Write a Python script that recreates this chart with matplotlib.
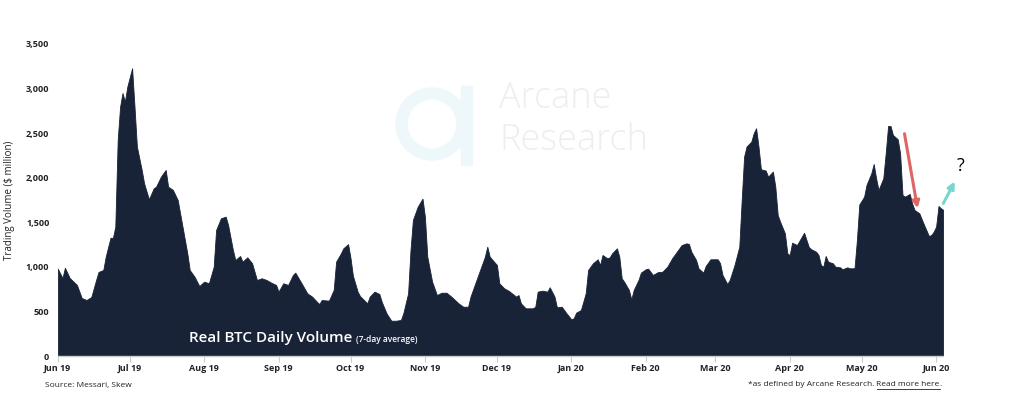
import matplotlib
matplotlib.use("Agg")
import matplotlib.pyplot as plt
import matplotlib.patches as mpatches
import pandas as pd

# ---- data ----
dates = [
    "2019-06-01", "2019-06-03", "2019-06-04", "2019-06-06", "2019-06-09", "2019-06-11", "2019-06-13",
    "2019-06-15", "2019-06-17", "2019-06-18", "2019-06-20", "2019-06-21", "2019-06-23", "2019-06-24",
    "2019-06-25", "2019-06-26", "2019-06-27", "2019-06-28", "2019-06-29", "2019-06-30", "2019-07-02",
    "2019-07-03", "2019-07-04", "2019-07-06", "2019-07-07", "2019-07-09", "2019-07-11", "2019-07-12",
    "2019-07-14", "2019-07-16", "2019-07-17", "2019-07-19", "2019-07-21", "2019-07-23", "2019-07-25",
    "2019-07-26", "2019-07-28", "2019-07-30", "2019-08-01", "2019-08-03", "2019-08-05", "2019-08-06",
    "2019-08-08", "2019-08-10", "2019-08-11", "2019-08-13", "2019-08-14", "2019-08-16", "2019-08-17",
    "2019-08-19", "2019-08-21", "2019-08-23", "2019-08-25", "2019-08-27", "2019-08-29", "2019-08-31",
    "2019-09-01", "2019-09-03", "2019-09-05", "2019-09-07", "2019-09-08", "2019-09-09", "2019-09-11",
    "2019-09-13", "2019-09-15", "2019-09-17", "2019-09-18", "2019-09-19", "2019-09-22", "2019-09-24",
    "2019-09-25", "2019-09-27", "2019-09-28", "2019-09-30", "2019-10-01", "2019-10-02", "2019-10-04",
    "2019-10-05", "2019-10-08", "2019-10-09", "2019-10-11", "2019-10-13", "2019-10-14", "2019-10-16",
    "2019-10-18", "2019-10-20", "2019-10-22", "2019-10-23", "2019-10-25", "2019-10-26", "2019-10-27",
    "2019-10-29", "2019-10-31", "2019-11-01", "2019-11-02", "2019-11-04", "2019-11-06", "2019-11-08",
    "2019-11-10", "2019-11-12", "2019-11-15", "2019-11-17", "2019-11-19", "2019-11-20", "2019-11-22",
    "2019-11-24", "2019-11-26", "2019-11-27", "2019-11-28", "2019-12-01", "2019-12-02", "2019-12-04",
    "2019-12-06", "2019-12-09", "2019-12-10", "2019-12-11", "2019-12-13", "2019-12-16", "2019-12-17",
    "2019-12-18", "2019-12-20", "2019-12-22", "2019-12-23", "2019-12-25", "2019-12-26", "2019-12-28",
    "2019-12-30", "2020-01-01", "2020-01-02", "2020-01-03", "2020-01-05", "2020-01-07", "2020-01-08",
    "2020-01-10", "2020-01-12", "2020-01-13", "2020-01-14", "2020-01-16", "2020-01-17", "2020-01-18",
    "2020-01-20", "2020-01-21", "2020-01-22", "2020-01-23", "2020-01-25", "2020-01-26", "2020-01-27",
    "2020-01-29", "2020-01-30", "2020-02-01", "2020-02-02", "2020-02-04", "2020-02-06", "2020-02-08",
    "2020-02-10", "2020-02-12", "2020-02-14", "2020-02-16", "2020-02-18", "2020-02-19", "2020-02-20",
    "2020-02-22", "2020-02-23", "2020-02-25", "2020-02-26", "2020-02-28", "2020-03-02", "2020-03-03",
    "2020-03-04", "2020-03-06", "2020-03-07", "2020-03-09", "2020-03-11", "2020-03-12", "2020-03-13",
    "2020-03-14", "2020-03-16", "2020-03-17", "2020-03-18", "2020-03-19", "2020-03-20", "2020-03-22",
    "2020-03-23", "2020-03-25", "2020-03-26", "2020-03-27", "2020-03-28", "2020-03-30", "2020-03-31",
    "2020-04-01", "2020-04-02", "2020-04-04", "2020-04-05", "2020-04-07", "2020-04-08", "2020-04-09",
    "2020-04-10", "2020-04-12", "2020-04-13", "2020-04-14", "2020-04-15", "2020-04-16", "2020-04-17",
    "2020-04-19", "2020-04-20", "2020-04-22", "2020-04-23", "2020-04-25", "2020-04-26", "2020-04-28",
    "2020-04-29", "2020-04-30", "2020-05-02", "2020-05-03", "2020-05-05", "2020-05-06", "2020-05-07",
    "2020-05-08", "2020-05-10", "2020-05-11", "2020-05-12", "2020-05-13", "2020-05-14", "2020-05-16",
    "2020-05-17", "2020-05-18", "2020-05-19", "2020-05-21", "2020-05-22", "2020-05-23", "2020-05-25",
    "2020-05-27", "2020-05-29", "2020-05-30", "2020-05-31", "2020-06-01", "2020-06-02", "2020-06-03",
    "2020-06-04",
]
volume = [
    980, 875, 990, 875, 797, 651, 628,
    662, 853, 943, 965, 1114, 1327, 1324,
    1451, 2424, 2797, 2950, 2853, 3021, 3228,
    2797, 2349, 2087, 1937, 1758, 1881, 1900,
    2012, 2087, 1900, 1863, 1750, 1451, 1152,
    965, 890, 785, 834, 816, 1002, 1414,
    1545, 1563, 1470, 1189, 1077, 1122, 1058,
    1107, 1040, 853, 872, 853, 822, 797,
    722, 816, 797, 909, 935, 890, 797,
    703, 666, 609, 583, 628, 621, 741,
    1058, 1152, 1208, 1255, 1100, 900, 720,
    670, 591, 666, 722, 696, 609, 479,
    396, 396, 404, 479, 703, 1189, 1526,
    1675, 1765, 1563, 1114, 834, 684, 710,
    710, 666, 591, 553, 553, 666, 816,
    965, 1114, 1226, 1114, 1021, 816, 760,
    730, 666, 684, 591, 535, 535, 553,
    722, 733, 722, 771, 666, 546, 553,
    479, 412, 423, 486, 516, 703, 965,
    1040, 1085, 1021, 1133, 1096, 1107, 1152,
    1208, 1114, 872, 834, 741, 636, 741,
    853, 935, 973, 980, 909, 940, 946,
    1002, 1096, 1170, 1245, 1264, 1257, 1170,
    1077, 984, 935, 1010, 1085, 1085, 1040,
    909, 808, 853, 1021, 1226, 1750, 2236,
    2349, 2405, 2499, 2555, 2349, 2095, 2080,
    2012, 2069, 1900, 1582, 1507, 1376, 1152,
    1133, 1271, 1245, 1290, 1383, 1300, 1220,
    1197, 1170, 1133, 1021, 1002, 1122, 1058,
    1040, 1002, 995, 973, 995, 984, 984,
    1300, 1700, 1787, 1919, 2050, 2154, 1994,
    1863, 1994, 2274, 2581, 2581, 2480, 2432,
    2274, 1806, 1787, 1818, 1713, 1638, 1601,
    1470, 1346, 1357, 1395, 1451, 1683, 1657,
    1638,
]
y_ticks = [0, 500, 1000, 1500, 2000, 2500, 3000, 3500]
x_tick_dates = ["2019-06-01", "2019-07-01", "2019-08-01", "2019-09-01", "2019-10-01", "2019-11-01",
                "2019-12-01", "2020-01-01", "2020-02-01", "2020-03-01", "2020-04-01", "2020-05-01",
                "2020-06-01"]
x_tick_labels = ["Jun 19", "Jul 19", "Aug 19", "Sep 19", "Oct 19", "Nov 19", "Dec 19",
                 "Jan 20", "Feb 20", "Mar 20", "Apr 20", "May 20", "Jun 20"]

plt.rcParams['font.family'] = ['Open Sans', 'DejaVu Sans']

W, H = 1024, 393
fig = plt.figure(figsize=(W / 100, H / 100), dpi=100)

# overlay for watermark (behind)
ov = fig.add_axes([0, 0, 1, 1], zorder=0)
ov.set_xlim(0, W)
ov.set_ylim(H, 0)
ov.axis("off")
wm_c = "#eef8fa"
ov.add_patch(mpatches.Wedge((432, 124), 36, 0, 360, width=11, color=wm_c))
ov.add_patch(mpatches.Rectangle((461, 86), 11, 79, color=wm_c))
ov.text(499, 98, "Arcane", fontsize=26, color="#eceef2", va="center", ha="left", fontweight="light")
ov.text(499, 141, "Research", fontsize=26, color="#eceef2", va="center", ha="left", fontweight="light")

ax = fig.add_axes([57.7 / W, 1 - 356 / H, (943.3 - 57.7) / W, (356 - 44) / H], zorder=1)
ax.patch.set_alpha(0)
x = pd.to_datetime(dates)
ax.fill_between(x, volume, 0, color="#192338", linewidth=0.6, edgecolor="#192338")
ax.set_xlim(pd.Timestamp("2019-06-01"), pd.Timestamp("2020-06-04"))
ax.set_ylim(0, 3500)

ax.set_yticks(y_ticks)
ax.set_yticklabels([f"{v:,}" for v in y_ticks], fontsize=6.5, fontweight="bold", color="#222222")
ax.set_xticks(pd.to_datetime(x_tick_dates))
ax.set_xticklabels(x_tick_labels, fontsize=6.5, fontweight="bold", color="#222222")
ax.tick_params(axis="y", length=0, pad=6)
ax.tick_params(axis="x", length=4, color="#cccccc", width=0.8, pad=2)
for s in ["top", "right", "left"]:
    ax.spines[s].set_visible(False)
ax.spines["bottom"].set_color("#cccccc")
ax.spines["bottom"].set_linewidth(1.0)
ax.set_ylabel("Trading Volume ($ million)", fontsize=7, color="#222222", labelpad=8)

# top overlay for annotations
top = fig.add_axes([0, 0, 1, 1], zorder=2)
top.set_xlim(0, W)
top.set_ylim(H, 0)
top.axis("off")
top.patch.set_alpha(0)
inv = top.transData.inverted()

title = top.text(189, 338, "Real BTC Daily Volume", fontsize=11, fontweight="semibold", color="white",
                 va="center", ha="left")
fig.canvas.draw()
tb = title.get_window_extent()
tx_end = inv.transform((tb.x1, tb.y0))[0]
top.text(tx_end + 4, 340, "(7-day average)", fontsize=6, fontweight="semibold", color="white",
         va="center", ha="left")

top.annotate("", xy=(918, 211), xytext=(904, 131),
             arrowprops=dict(arrowstyle="-|>", color="#e06666", lw=2.2, mutation_scale=10))
top.annotate("", xy=(956, 179), xytext=(942, 206),
             arrowprops=dict(arrowstyle="-|>", color="#76d7d1", lw=2.2, mutation_scale=10))
top.text(961, 166, "?", fontsize=13, color="black", va="center", ha="center")
top.text(45, 385, "Source: Messari, Skew", fontsize=6, color="#222222", va="center", ha="left")

t1 = top.text(748, 385, "*as defined by Arcane Research. ", fontsize=6, color="#222222",
              va="center", ha="left")
fig.canvas.draw()
bb = t1.get_window_extent()
x_end = inv.transform((bb.x1, bb.y0))[0]
t2 = top.text(x_end, 385, "Read more here", fontsize=6, color="#222222", va="center", ha="left")
fig.canvas.draw()
bb2 = t2.get_window_extent()
x_end2 = inv.transform((bb2.x1, bb2.y0))[0]
top.plot([x_end, x_end2], [389, 389], color="#222222", lw=0.6)
top.text(x_end2, 385, ".", fontsize=6, color="#222222", va="center", ha="left")

fig.savefig("out.png", dpi=100)
